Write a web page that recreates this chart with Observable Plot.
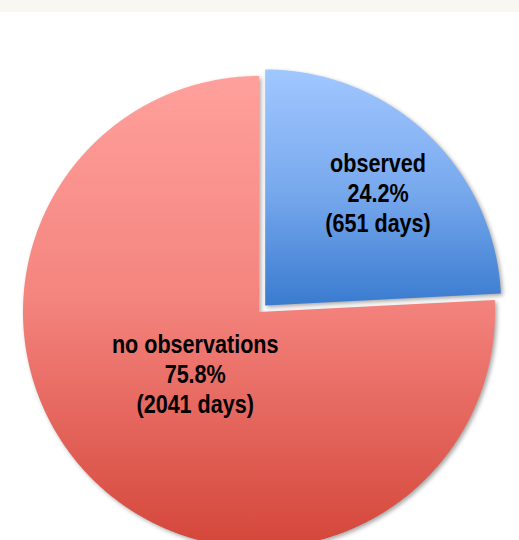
<!DOCTYPE html>
<html><head><meta charset="utf-8">
<script src="https://cdn.jsdelivr.net/npm/d3@7"></script>
<script src="https://cdn.jsdelivr.net/npm/@observablehq/plot@0.6"></script>
<style>
body{margin:0;background:#fff;}
#band{height:12px;background:#f9f7f2;}
#chart svg{display:block;}
</style>
</head><body><div id="band"></div><div id="chart"></div>
<script>
// ---- data ----
const categories = ["observed", "no observations"];
const days = [651, 2041];
const percentLabels = ["24.2%", "75.8%"];
const dayLabels = ["(651 days)", "(2041 days)"];

// ---- layout / style ----
const W = 519, H = 528;
const R_PX = 236, CX_PX = 258.5, CY_PX = 299.5;
const explode = [0.038, 0];
const labelRadius = [0.676, 0.375];
const labelAngleShift = [1.5, 2.6]; // degrees
const fills = ["url(#gradBlue)", "url(#gradRed)"];
const narrow = 0.83; // emulate Arial Narrow

const table = categories.map((c, i) => ({category: c, days: days[i], pct: percentLabels[i], dl: dayLabels[i], i}));
const arcs = d3.pie().sort(null).value(d => d.days)(table);

const slices = arcs.map(a => {
  const i = a.data.i;
  const mid = (a.startAngle + a.endAngle) / 2;
  const ox = explode[i] * Math.sin(mid), oy = explode[i] * Math.cos(mid);
  const n = Math.max(2, Math.ceil((a.endAngle - a.startAngle) / 0.005));
  const pts = [{x: ox, y: oy}];
  for (let k = 0; k <= n; k++) {
    const t = a.startAngle + (a.endAngle - a.startAngle) * k / n;
    pts.push({x: ox + Math.sin(t), y: oy + Math.cos(t)});
  }
  pts.push({x: ox, y: oy});
  const la = mid + labelAngleShift[i] * Math.PI / 180;
  const lr = labelRadius[i];
  return {pts, label: {x: ox + lr * Math.sin(la), y: oy + lr * Math.cos(la),
    text: a.data.category + "\n" + a.data.pct + "\n" + a.data.dl}};
});

const order = [1, 0]; // red below, blue above
const marks = order.map(i => Plot.line(slices[i].pts, {x: "x", y: "y", fill: fills[i], stroke: "none", curve: "linear"}));
marks.push(Plot.text(slices.map(s => s.label), {
  x: "x", y: "y", text: "text", fontSize: 26, fontWeight: "bold", lineHeight: 1.154,
  fill: "#000", fontFamily: "'Liberation Sans', Arial, sans-serif"
}));

const plot = Plot.plot({
  width: W, height: H, margin: 0,
  x: {domain: [-CX_PX / R_PX, (W - CX_PX) / R_PX], range: [0, W], axis: null},
  y: {domain: [-(H - CY_PX) / R_PX, CY_PX / R_PX], range: [H, 0], axis: null},
  style: {background: "transparent", overflow: "hidden"},
  marks
});

const ns = "http://www.w3.org/2000/svg";
const defs = document.createElementNS(ns, "defs");
function grad(id, stops) {
  const g = document.createElementNS(ns, "linearGradient");
  g.setAttribute("id", id); g.setAttribute("x1", 0); g.setAttribute("y1", 0); g.setAttribute("x2", 0); g.setAttribute("y2", 1);
  stops.forEach(([o, c]) => { const s = document.createElementNS(ns, "stop"); s.setAttribute("offset", o); s.setAttribute("stop-color", c); g.appendChild(s); });
  defs.appendChild(g);
}
grad("gradBlue", [[0, "#a1c7ff"], [0.5, "#79aaee"], [1, "#3a7bcf"]]);
grad("gradRed", [[0, "#ffa09c"], [0.47, "#f4847e"], [1, "#d4463a"]]);
plot.insertBefore(defs, plot.firstChild);
plot.querySelectorAll('g[aria-label="line"] path').forEach(p => {
  p.style.filter = "drop-shadow(2px 2px 2px rgba(0,0,0,0.35))";
});
plot.querySelectorAll('g[aria-label="text"] text').forEach(t => {
  const tr = t.getAttribute("transform") || "";
  t.setAttribute("transform", (tr + ` scale(${narrow},1)`).trim());
});
document.getElementById("chart").appendChild(plot);
</script>
</body></html>
